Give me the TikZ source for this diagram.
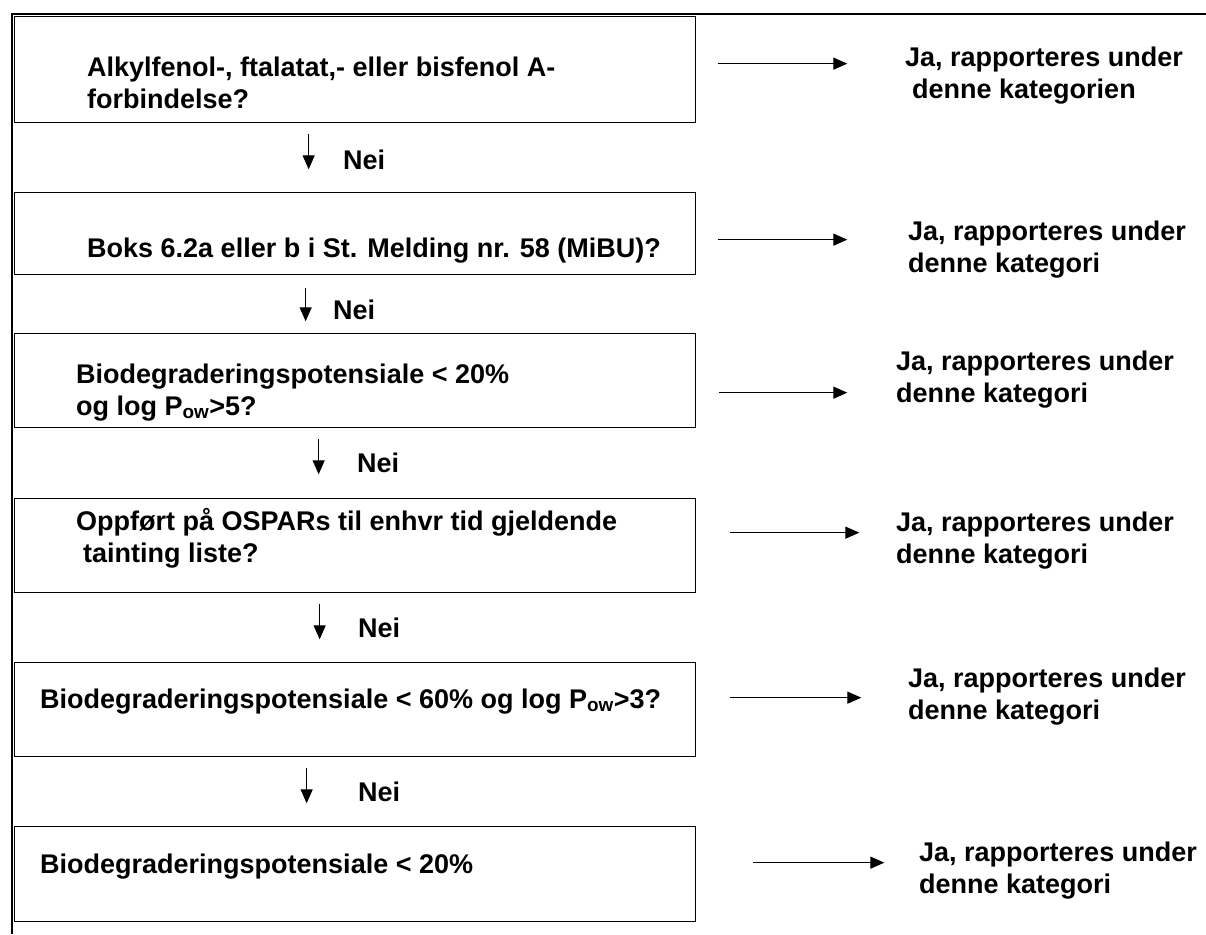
\documentclass[tikz,border=0pt]{standalone}
\usepackage{fontspec}
\setmainfont{Liberation Sans}
\usetikzlibrary{arrows.meta}
\tikzset{
  box/.style={draw, line width=1.3pt, minimum width=681pt, anchor=north west, inner sep=0pt},
  txt/.style={anchor=base west, align=left, inner sep=0pt},
  pil/.style={line width=1.3pt, -{Triangle[length=14pt,width=12pt]}},
}
\begin{document}
\begin{tikzpicture}[x=1pt, y=-1pt, font=\bfseries\fontsize{27}{32}\selectfont]
\useasboundingbox (0,0) rectangle (1206,934);
% frame
\draw[line width=2.2pt] (12.3,934) -- (12.3,14) -- (1206,14);

% question boxes
\node[box, minimum height=106pt] (box1) at (14,16) {};
\node[box, minimum height=82pt] (box2) at (14,192) {};
\node[box, minimum height=94pt] (box3) at (14,333) {};
\node[box, minimum height=94pt] (box4) at (14,498) {};
\node[box, minimum height=94pt] (box5) at (14,662) {};
\node[box, minimum height=95pt] (box6) at (14,826) {};

% base = last line
\node[txt] (q1) at (87,108) {Alkylfenol-, ftalatat,- eller bisfenol A-\\forbindelse?};
\node[txt] (q2) at (87,257) {Boks 6.2a eller b i St. Melding nr. 58 (MiBU)?};
\node[txt] (q3) at (76,415) {Biodegraderingspotensiale < 20\%\\og log P\textsubscript{ow}>5?};
\node[txt] (q4) at (76,562) {Oppført på OSPARs til enhvr tid gjeldende\\\hspace{7pt}tainting liste?};
\node[txt] (q5) at (40,708) {Biodegraderingspotensiale < 60\% og log P\textsubscript{ow}>3?};
\node[txt] (q6) at (40,873) {Biodegraderingspotensiale < 20\%};

% answers
\node[txt] (ans1) at (905,98) {Ja, rapporteres under\\\hspace{7pt}denne kategorien};
\node[txt] (ans2) at (908,272) {Ja, rapporteres under\\denne kategori};
\node[txt] (ans3) at (896,402) {Ja, rapporteres under\\denne kategori};
\node[txt] (ans4) at (896,563) {Ja, rapporteres under\\denne kategori};
\node[txt] (ans5) at (908,719) {Ja, rapporteres under\\denne kategori};
\node[txt] (ans6) at (919,893) {Ja, rapporteres under\\denne kategori};

% ja arrows
\draw[pil] (box1.east) ++(22,-6) -- ++(129,0);
\draw[pil] (box2.east) ++(22,6) -- ++(129,0);
\draw[pil] (box3.east) ++(23,12) -- ++(128,0);
\draw[pil] (box4.east) ++(34,-13) -- ++(129,0);
\draw[pil] (box5.east) ++(34,-12) -- ++(131,0);
\draw[pil] (box6.east) ++(57,-11.5) -- ++(131,0);

% nei arrows
\draw[pil] (box1.south) ++(-46.5,11) -- ++(0,35);
\draw[pil] (box2.south) ++(-49.5,13) -- ++(0,33);
\draw[pil] (box3.south) ++(-36.5,11) -- ++(0,35);
\draw[pil] (box4.south) ++(-35.5,11) -- ++(0,35);
\draw[pil] (box5.south) ++(-48.5,11) -- ++(0,35);
\foreach \x/\y [count=\i] in {343/160, 333/310, 357/463, 358/628, 358/792}
	\node[anchor=west, inner sep=0pt] (nei\i) at (\x,\y) {Nei};
\end{tikzpicture}
\end{document}
